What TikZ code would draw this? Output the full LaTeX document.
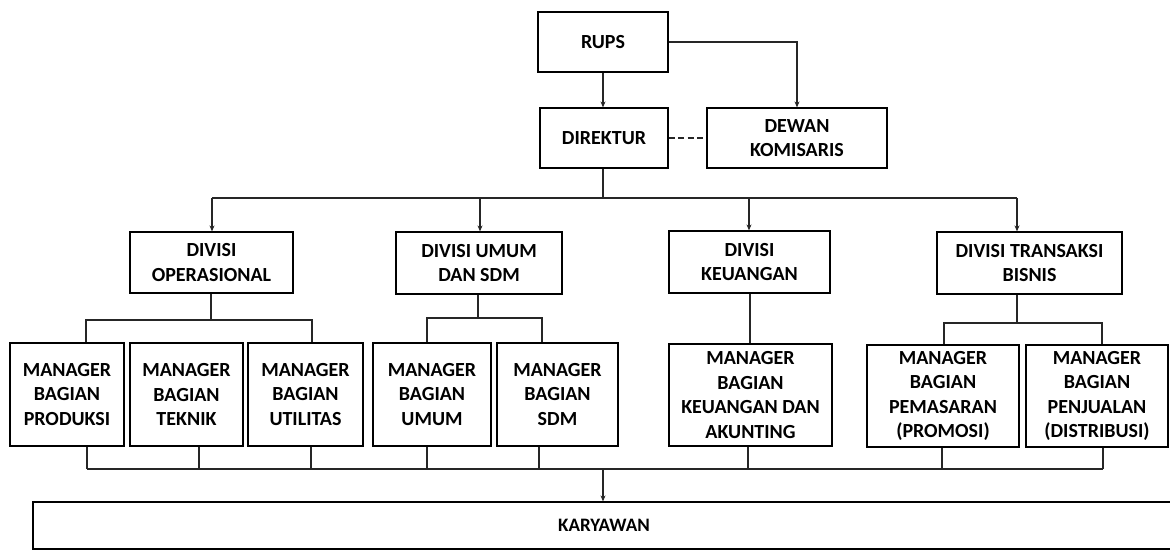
\documentclass[tikz,border=0pt]{standalone}
\usepackage{fontspec}
\setmainfont{Carlito}
\usetikzlibrary{arrows.meta}
\begin{document}
\begin{tikzpicture}[x=1pt,y=-1pt,
  box/.style={draw=black,line width=1.2pt,rectangle,inner sep=0pt,align=center,
    font=\fontsize{20}{24.5}\selectfont\bfseries},
  conn/.style={draw=black!85,line width=1.2pt},
  arr/.style={conn,-{Stealth[length=6pt,width=5pt]}}]
\useasboundingbox (0,0) rectangle (1170,550);
% top
\node[box,minimum width=130pt,minimum height=60pt] (rups) at (603,42) {RUPS};
\node[box,minimum width=128pt,minimum height=60pt] (dir) at (604,138) {DIREKTUR};
\node[box,minimum width=180pt,minimum height=60pt] (dewan) at (797,138) {DEWAN\\KOMISARIS};
% divisions
\node[box,minimum width=163pt,minimum height=61pt] (dop) at (211.5,262.5) {DIVISI\\OPERASIONAL};
\node[box,minimum width=166pt,minimum height=62pt] (dum) at (479,263) {DIVISI UMUM\\DAN SDM};
\node[box,minimum width=161pt,minimum height=62pt] (dkeu) at (749.5,262) {DIVISI\\KEUANGAN};
\node[box,minimum width=185pt,minimum height=62pt] (dtr) at (1029.5,263) {DIVISI TRANSAKSI\\BISNIS};
% managers
\node[box,minimum width=114pt,minimum height=103pt] (m1) at (67,394.5) {MANAGER\\BAGIAN\\PRODUKSI};
\node[box,minimum width=113pt,minimum height=103pt] (m2) at (186.5,394.5) {MANAGER\\BAGIAN\\TEKNIK};
\node[box,minimum width=115pt,minimum height=103pt] (m3) at (305.5,394.5) {MANAGER\\BAGIAN\\UTILITAS};
\node[box,minimum width=118pt,minimum height=103pt] (m4) at (432,394.5) {MANAGER\\BAGIAN\\UMUM};
\node[box,minimum width=121pt,minimum height=103pt] (m5) at (557.5,394.5) {MANAGER\\BAGIAN\\SDM};
\node[box,minimum width=163pt,minimum height=102pt] (m6) at (750.5,395) {MANAGER\\BAGIAN\\KEUANGAN DAN\\AKUNTING};
\node[box,minimum width=152pt,minimum height=102pt] (m7) at (943,396) {MANAGER\\BAGIAN\\PEMASARAN\\(PROMOSI)};
\node[box,minimum width=142pt,minimum height=102pt] (m8) at (1097,396) {MANAGER\\BAGIAN\\PENJUALAN\\(DISTRIBUSI)};
% karyawan
\node[box,minimum width=1142pt,minimum height=47pt,font=\fontsize{19}{24}\selectfont\bfseries] (kary) at (604,525.5) {KARYAWAN};
% top connectors
\draw[arr] (rups.south) -- (rups.south |- dir.north);
\draw[arr] (rups.east) -| (dewan.north);
\draw[conn,line width=2pt,dash pattern=on 6pt off 3.5pt] (dir.east) -- (dewan.west);
% bus to divisions
\coordinate (bt) at (603,198);
\coordinate (b1) at (212,198);
\coordinate (b2) at (480,198);
\coordinate (b3) at (749,198);
\coordinate (b4) at (1017,198);
\draw[conn] (bt |- dir.south) -- (bt);
\draw[conn] (b1) -- (b4);
\draw[arr] (b1) -- (b1 |- dop.north);
\draw[arr] (b2) -- (b2 |- dum.north);
\draw[arr] (b3) -- (b3 |- dkeu.north);
\draw[arr] (b4) -- (b4 |- dtr.north);
% divisi operasional
\coordinate (o0) at (211,320);
\coordinate (o1) at (86,320);
\coordinate (o3) at (312,320);
\draw[conn] (o0 |- dop.south) -- (o0);
\draw[conn] (o1 |- m1.north) -- (o1) -- (o3) -- (o3 |- m3.north);
% divisi umum
\coordinate (u0) at (478,318);
\coordinate (u1) at (427,318);
\coordinate (u2) at (542,318);
\draw[conn] (u0 |- dum.south) -- (u0);
\draw[conn] (u1 |- m4.north) -- (u1) -- (u2) -- (u2 |- m5.north);
% divisi keuangan
\coordinate (k0) at (750,300);
\draw[conn] (k0 |- dkeu.south) -- (k0 |- m6.north);
% divisi transaksi
\coordinate (t0) at (1017,323);
\coordinate (t1) at (944,323);
\coordinate (t2) at (1102,323);
\draw[conn] (t0 |- dtr.south) -- (t0);
\draw[conn] (t1 |- m7.north) -- (t1) -- (t2) -- (t2 |- m8.north);
% bottom bus
\coordinate (c1) at (87,469);
\coordinate (c2) at (199,469);
\coordinate (c3) at (311,469);
\coordinate (c4) at (427,469);
\coordinate (c5) at (539,469);
\coordinate (c6) at (748,469);
\coordinate (c7) at (942,469);
\coordinate (c8) at (1103,469);
\coordinate (cm) at (603,469);
\draw[conn] (c1) -- (c8);
\draw[conn] (c1 |- m1.south) -- (c1);
\draw[conn] (c2 |- m2.south) -- (c2);
\draw[conn] (c3 |- m3.south) -- (c3);
\draw[conn] (c4 |- m4.south) -- (c4);
\draw[conn] (c5 |- m5.south) -- (c5);
\draw[conn] (c6 |- m6.south) -- (c6);
\draw[conn] (c7 |- m7.south) -- (c7);
\draw[conn] (c8 |- m8.south) -- (c8);
\draw[arr] (cm) -- (cm |- kary.north);
\end{tikzpicture}
\end{document}
